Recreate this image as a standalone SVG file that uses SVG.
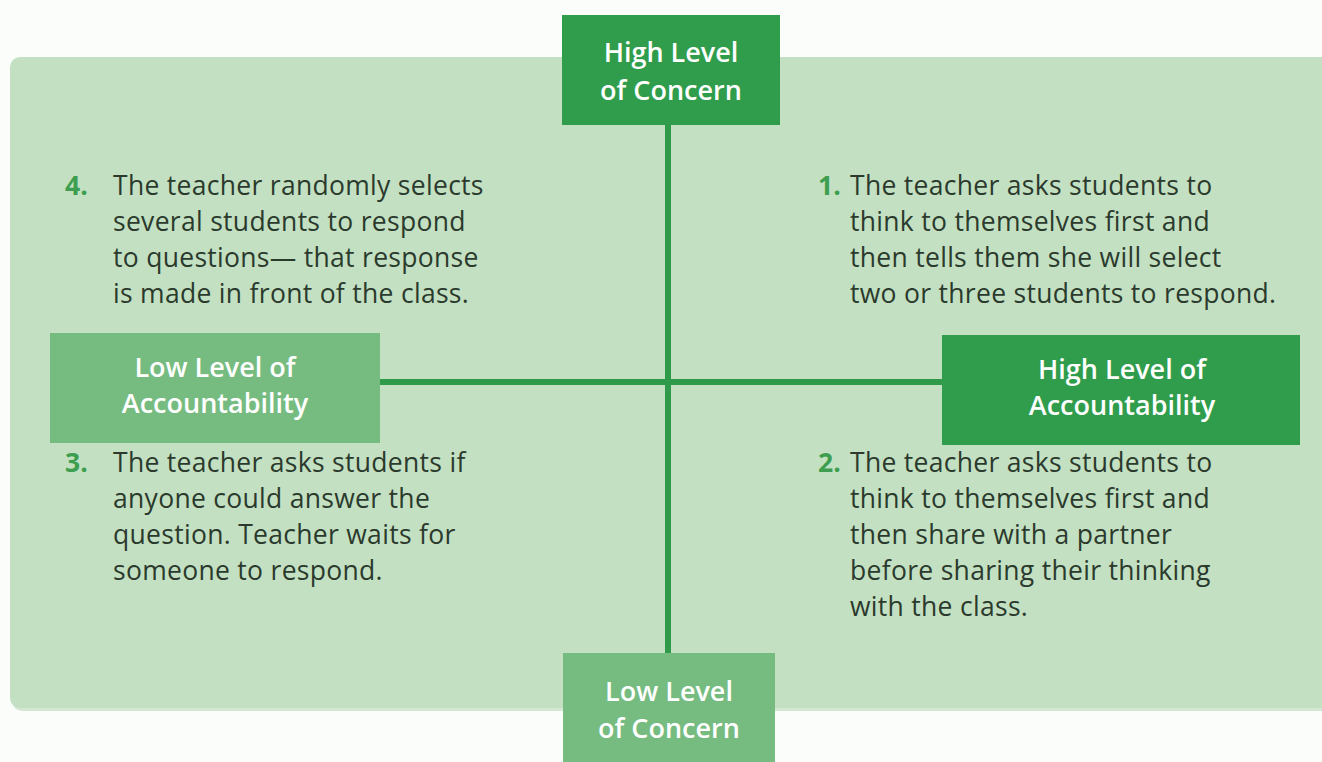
<svg xmlns="http://www.w3.org/2000/svg" width="1322" height="762" viewBox="0 0 1322 762">
<style>
.lbl{font-family:"Open Sans","Liberation Sans",sans-serif;font-weight:600;font-size:27px;fill:#ffffff;text-anchor:middle}
.txt{font-family:"Open Sans","Liberation Sans",sans-serif;font-size:26.5px;letter-spacing:0.3px;fill:#2b3a2d}
.num{font-family:"Open Sans","Liberation Sans",sans-serif;font-size:26.5px;font-weight:700;fill:#3c9e4e}
.dark{fill:#2f9d4c}
.light{fill:#76bc81}
.conn{stroke:#2f9a4a;stroke-width:6;fill:none}
</style>
<rect width="1322" height="762" fill="#fbfdfb"/>
<g id="panel">
<rect x="12" y="60" width="1330" height="651" rx="10" fill="#b9d8b8" opacity="0.6"/>
<rect x="10" y="57" width="1330" height="651" rx="10" fill="#c3e1c2"/>
</g>
<g id="connectors">
<line class="conn" x1="668" y1="120" x2="668" y2="658"/>
<line class="conn" x1="378" y1="382" x2="944" y2="382"/>
</g>
<g id="high-concern">
<rect class="dark" x="562" y="15" width="218" height="110"/>
<text class="lbl" x="671" y="62">High Level</text>
<text class="lbl" x="671" y="100">of Concern</text>
</g>
<g id="low-concern">
<rect class="light" x="563" y="653" width="212" height="109"/>
<text class="lbl" x="669" y="701">Low Level</text>
<text class="lbl" x="669" y="738">of Concern</text>
</g>
<g id="low-accountability">
<rect class="light" x="50" y="333" width="330" height="110"/>
<text class="lbl" x="215" y="377">Low Level of</text>
<text class="lbl" x="215" y="413">Accountability</text>
</g>
<g id="high-accountability">
<rect class="dark" x="942" y="335" width="358" height="110"/>
<text class="lbl" x="1122" y="379">High Level of</text>
<text class="lbl" x="1122" y="415">Accountability</text>
</g>
<g id="item4">
<text class="num" x="65" y="195">4.</text>
<text class="txt" x="113" y="195">The teacher randomly selects</text>
<text class="txt" x="113" y="231">several students to respond</text>
<text class="txt" x="113" y="267">to questions— that response</text>
<text class="txt" x="113" y="303">is made in front of the class.</text>
</g>
<g id="item1">
<text class="num" x="818" y="195">1.</text>
<text class="txt" x="850" y="195">The teacher asks students to</text>
<text class="txt" x="850" y="231">think to themselves first and</text>
<text class="txt" x="850" y="267">then tells them she will select</text>
<text class="txt" x="850" y="303">two or three students to respond.</text>
</g>
<g id="item3">
<text class="num" x="65" y="472">3.</text>
<text class="txt" x="113" y="472">The teacher asks students if</text>
<text class="txt" x="113" y="508">anyone could answer the</text>
<text class="txt" x="113" y="544">question. Teacher waits for</text>
<text class="txt" x="113" y="580">someone to respond.</text>
</g>
<g id="item2">
<text class="num" x="818" y="472">2.</text>
<text class="txt" x="850" y="472">The teacher asks students to</text>
<text class="txt" x="850" y="508">think to themselves first and</text>
<text class="txt" x="850" y="544">then share with a partner</text>
<text class="txt" x="850" y="580">before sharing their thinking</text>
<text class="txt" x="850" y="616">with the class.</text>
</g>
</svg>
